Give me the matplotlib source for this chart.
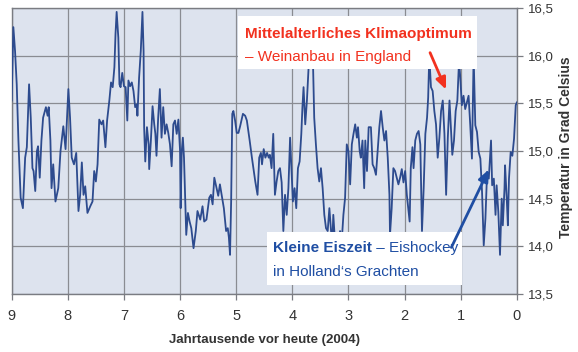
import matplotlib
matplotlib.use("Agg")
import matplotlib.pyplot as plt
from matplotlib.patches import Rectangle
from matplotlib.ticker import FuncFormatter

ages = [9.00,8.97,8.94,8.91,8.88,8.84,8.80,8.76,8.73,8.69,8.66,8.63,8.61,8.58,8.55,8.53,8.50,8.47,8.44,8.39,
        8.36,8.34,8.31,8.29,8.26,8.22,8.17,8.13,8.08,8.04,7.99,7.96,7.93,7.89,7.85,7.81,7.78,7.75,7.72,7.69,
        7.65,7.60,7.56,7.53,7.50,7.47,7.44,7.40,7.37,7.33,7.30,7.26,7.23,7.20,7.17,7.15,7.13,7.10,7.08,7.06,
        7.03,7.00,6.97,6.94,
        6.92,6.89,6.86,6.83,6.80,6.77,6.76,6.73,6.70,6.67,6.65,6.64,6.62,6.59,6.56,6.55,6.52,6.49,6.46,6.44,
        6.42,6.39,6.36,6.33,6.30,6.27,6.24,6.21,6.18,6.15,6.12,6.09,6.06,6.03,6.00,5.99,5.97,5.95,5.93,5.89,
        5.86,5.83,5.80,5.76,5.72,5.69,5.64,5.60,5.57,5.53,5.48,5.45,5.42,5.39,5.35,5.32,5.29,5.26,5.22,5.18,
        5.15,5.13,5.11,5.09,5.07,5.05,5.02,4.99,4.96,4.93,4.88,4.84,4.81,4.76,
        4.72,4.66,4.62,4.59,4.56,4.54,4.51,4.48,4.45,4.42,4.40,4.37,4.34,4.31,4.28,4.25,4.22,4.19,4.16,4.13,
        4.10,4.07,4.04,4.01,3.99,3.96,3.93,3.90,3.87,3.84,3.82,3.80,3.77,3.74,3.71,3.68,3.63,3.61,3.58,3.55,
        3.52,3.49,3.46,3.43,3.40,3.37,3.34,3.31,3.29,3.27,3.24,3.21,3.18,3.15,3.12,3.09,3.06,3.03,3.00,2.97,
        2.94,2.91,2.88,2.85,2.83,2.80,2.78,2.75,2.72,2.70,2.67,2.64,
        2.60,2.57,2.54,2.51,2.48,2.45,2.42,2.39,2.36,2.33,2.30,2.27,2.26,2.23,2.20,2.17,2.14,2.11,2.08,2.05,
        2.02,1.99,1.96,1.93,1.91,1.89,1.86,1.84,1.81,1.78,1.75,1.72,1.69,1.66,1.63,1.60,1.58,1.56,1.53,1.50,
        1.47,1.44,1.41,1.38,1.35,1.32,1.29,1.26,1.23,1.20,1.17,1.15,1.12,1.09,1.06,1.03,
        1.01,0.98,0.95,0.92,0.89,0.86,0.83,0.80,0.77,0.74,0.71,0.68,0.65,0.62,0.59,0.56,0.53,0.50,0.46,0.44,
        0.41,0.38,0.36,0.33,0.30,0.27,0.25,0.22,0.21,0.18,0.16,0.14,0.11,0.08,0.05,0.02,0.00]

temps = [15.53,16.30,16.05,15.70,15.11,14.51,14.40,14.93,15.04,15.70,15.35,14.82,14.79,14.58,15.00,15.05,14.72,15.11,15.35,15.46,
         15.37,15.46,15.11,14.61,14.86,14.47,14.61,15.00,15.26,15.02,15.65,15.35,14.93,14.86,14.98,14.37,14.54,14.88,14.54,14.63,
         14.35,14.42,14.47,14.79,14.68,14.86,15.33,15.28,15.32,15.04,15.32,15.53,15.72,15.67,15.88,16.23,16.46,16.19,15.70,15.67,
         15.82,15.68,15.67,15.32,
         15.74,15.68,15.72,15.63,15.46,15.49,15.37,15.77,16.05,16.46,16.05,15.25,14.89,15.25,15.07,14.81,15.11,15.47,15.28,15.18,
         14.95,15.35,15.65,15.14,15.46,15.18,15.28,15.19,15.07,14.84,15.28,15.32,15.18,15.33,15.00,14.40,15.00,15.14,14.93,14.12,
         14.35,14.26,14.19,13.98,14.16,14.37,14.28,14.42,14.26,14.28,14.51,14.54,14.44,14.72,14.61,14.53,14.65,14.54,14.40,14.16,
         14.19,14.09,13.91,14.47,15.39,15.42,15.32,15.19,15.19,15.26,15.39,15.37,15.32,15.11,
         14.93,14.68,14.54,14.93,14.98,14.86,15.02,14.93,14.98,14.93,14.96,14.82,15.18,14.54,14.68,14.79,14.82,14.67,14.16,14.54,
         14.33,14.61,15.14,14.75,14.47,14.61,14.40,14.82,14.89,15.18,15.46,15.67,15.28,15.53,15.88,16.20,15.88,15.35,15.07,14.82,
         14.68,14.82,14.61,14.33,14.19,14.16,14.40,14.16,14.00,14.33,14.05,14.12,14.00,14.16,14.05,14.33,14.51,15.07,15.00,14.65,
         15.07,15.18,15.28,15.14,15.25,15.00,14.93,15.11,14.61,15.11,14.79,15.25,
         15.25,14.86,14.82,14.75,15.00,15.25,15.42,15.25,15.11,15.21,14.93,14.54,14.12,14.40,14.82,14.79,14.72,14.65,14.72,14.81,
         14.67,14.79,14.54,14.37,14.26,14.82,15.04,14.82,15.11,15.18,15.21,15.07,14.16,14.61,15.18,15.35,15.56,16.00,15.67,15.63,
         15.42,15.28,14.93,15.14,15.42,15.53,15.18,14.54,15.14,15.53,15.18,14.96,15.11,15.42,15.53,15.95,
         15.79,15.48,15.58,15.44,15.51,15.58,15.27,14.92,16.00,15.27,15.20,14.99,14.92,14.57,14.01,14.29,14.78,14.71,15.11,14.64,
         14.71,14.33,14.64,14.36,13.91,14.50,14.22,14.61,14.85,14.50,14.22,14.71,14.99,14.95,15.13,15.48,15.51]

x_ticks = [9, 8, 7, 6, 5, 4, 3, 2, 1, 0]
y_ticks = [13.5, 14.0, 14.5, 15.0, 15.5, 16.0, 16.5]

FONT = ['Liberation Sans', 'DejaVu Sans']

fig = plt.figure(figsize=(5.78, 3.52), dpi=100)
fig.patch.set_facecolor('white')
ax = fig.add_axes([0.0202, 0.165, 0.874, 0.812])
ax.set_facecolor('#dde3ee')

ax.plot(ages, temps, color='#2d4b8e', lw=1.3, zorder=3, solid_joinstyle='round')

ax.set_xlim(9, 0)
ax.set_ylim(13.5, 16.5)
ax.set_xticks(x_ticks)
ax.set_yticks(y_ticks)
ax.grid(True, color='#8a8c92', lw=0.9, zorder=1)
ax.set_axisbelow(True)
for s in ax.spines.values():
    s.set_color('#7a7c82')
    s.set_linewidth(1.0)

ax.yaxis.tick_right()
ax.yaxis.set_major_formatter(FuncFormatter(lambda v, p: f"{v:.1f}".replace('.', ',')))
ax.tick_params(axis='y', direction='out', length=4, width=0.9, color='#7a7c82', pad=4,
               labelsize=9.5, labelcolor='#333333')
ax.tick_params(axis='x', direction='out', length=4.5, width=0.9, color='#7a7c82', pad=6,
               labelsize=10.5, labelcolor='#333333')
for lab in ax.get_xticklabels() + ax.get_yticklabels():
    lab.set_family(FONT)

ax.set_xlabel('Jahrtausende vor heute (2004)', family=FONT, fontsize=9.5, fontweight='bold',
              color='#333333', labelpad=8)
fig.text(0.980, 0.583, 'Temperatur in Grad Celsius', rotation=90, ha='center', va='center',
         family=FONT, fontsize=10, fontweight='bold', color='#333333')

# annotation boxes
ax.add_patch(Rectangle((0.448, 0.787), 0.473, 0.185, transform=ax.transAxes,
                       facecolor='white', edgecolor='none', zorder=5))
ax.add_patch(Rectangle((0.506, 0.031), 0.386, 0.186, transform=ax.transAxes,
                       facecolor='white', edgecolor='none', zorder=5))

red = '#f2311f'
blue = '#1f4ea3'
ax.text(0.462, 0.909, 'Mittelalterliches Klimaoptimum', transform=ax.transAxes, family=FONT,
        fontsize=11, fontweight='bold', color=red, va='center', ha='left', zorder=6)
ax.text(0.462, 0.829, '– Weinanbau in England', transform=ax.transAxes, family=FONT,
        fontsize=11, color=red, va='center', ha='left', zorder=6)

t1 = ax.text(0.517, 0.161, 'Kleine Eiszeit', transform=ax.transAxes, family=FONT,
             fontsize=11, fontweight='bold', color=blue, va='center', ha='left', zorder=6)
ax.annotate(' – Eishockey', xy=(1, 0.5), xycoords=t1, family=FONT, fontsize=11,
            color=blue, va='center', ha='left', zorder=6)
ax.text(0.517, 0.077, 'in Holland‘s Grachten', transform=ax.transAxes, family=FONT,
        fontsize=11, color=blue, va='center', ha='left', zorder=6)

ax.annotate('', xy=(0.862, 0.706), xytext=(0.826, 0.853), xycoords='axes fraction',
            arrowprops=dict(arrowstyle='-|>,head_length=0.7,head_width=0.3', color=red, lw=2),
            zorder=7)
ax.annotate('', xy=(0.947, 0.444), xytext=(0.868, 0.154), xycoords='axes fraction',
            arrowprops=dict(arrowstyle='-|>,head_length=0.7,head_width=0.3', color=blue, lw=2),
            zorder=7)

fig.savefig('out.png', dpi=100)
